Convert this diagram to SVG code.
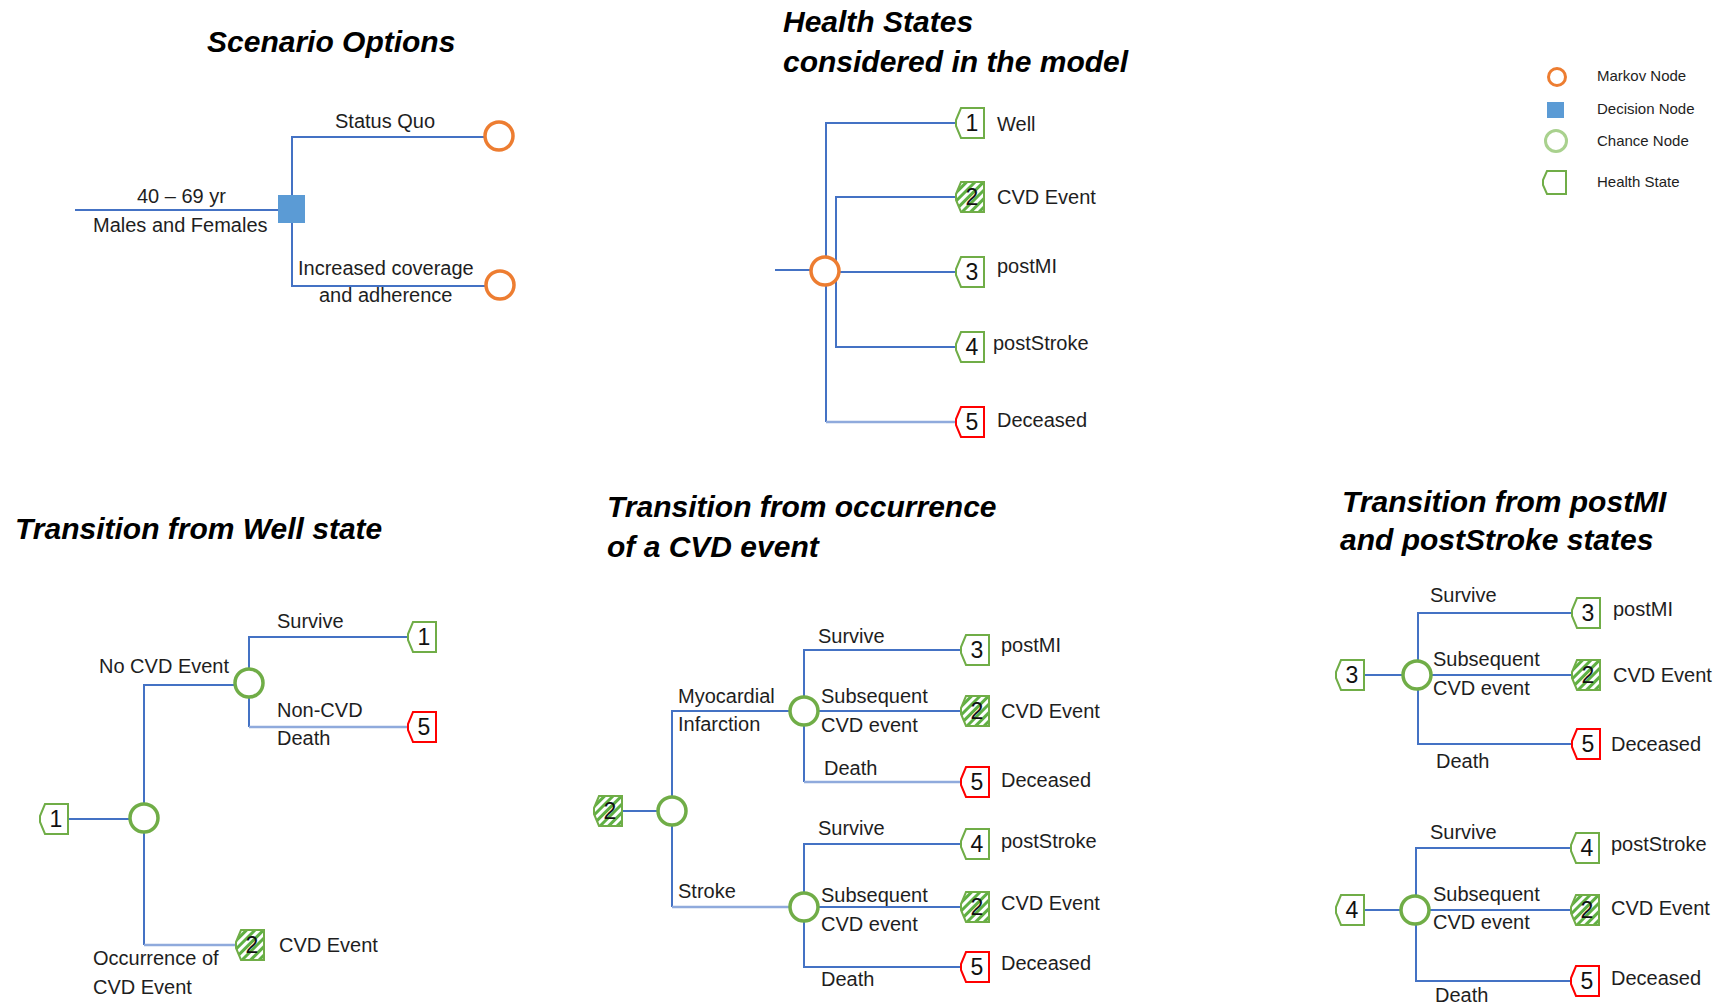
<svg xmlns="http://www.w3.org/2000/svg" xmlns:xlink="http://www.w3.org/1999/xlink" width="1713" height="1005" viewBox="0 0 1713 1005">
<style>
.ln{stroke:#4472C4;stroke-width:2;fill:none}
.lt{stroke:#8FAADC;stroke-width:2.5;fill:none}
.chance{fill:#fff;stroke:#70AD47;stroke-width:3.5}
.markov{fill:#fff;stroke:#ED7D31;stroke-width:3.5}
.hs{fill:#fff;stroke:#70AD47;stroke-width:2}
.hsd{fill:#fff;stroke:#FF0000;stroke-width:2}
.hsc{fill:url(#hatch);stroke:#70AD47;stroke-width:2}
text{font-family:"Liberation Sans",Arial,sans-serif;font-size:20px;fill:#1e1e1e}
.title{font-weight:bold;font-style:italic;font-size:30px;fill:#000}
.num{font-size:23px;text-anchor:middle;fill:#111}
.leg{font-size:15px}
</style>
<defs>
<pattern id="hatch" patternUnits="userSpaceOnUse" width="6" height="6" patternTransform="rotate(45)">
<rect width="6" height="6" fill="#fff"/>
<rect width="3" height="6" fill="#5FB043"/>
</pattern>
<path id="hsShape" d="M5,0 H28 V30 H5 L0,18 V12 Z"/>
</defs>

<!-- Titles -->
<g id="titles">
<text class="title" x="207" y="52">Scenario Options</text>
<text class="title" x="783" y="32">Health States</text>
<text class="title" x="783" y="72">considered in the model</text>
<text class="title" x="15" y="539">Transition from Well state</text>
<text class="title" x="607" y="517">Transition from occurrence</text>
<text class="title" x="607" y="557">of a CVD event</text>
<text class="title" x="1342" y="512">Transition from postMI</text>
<text class="title" x="1340" y="550">and postStroke states</text>
</g>

<!-- Connectors -->
<g id="connectors">
<!-- Scenario options -->
<path class="ln" d="M75,210 H278"/>
<path class="ln" d="M484,137 H292 V286 H485"/>
<!-- Health states -->
<path class="ln" d="M775,270 H812"/>
<path class="ln" d="M956,123 H826 V422"/>
<path class="lt" d="M826,422 H956"/>
<path class="ln" d="M956,197 H836 V347 H956"/>
<path class="ln" d="M838,272 H956"/>
<!-- Well transition -->
<path class="ln" d="M68,819 H130"/>
<path class="ln" d="M235,685 H144 V945"/>
<path class="lt" d="M144,945 H236"/>
<path class="ln" d="M408,637 H249 V727"/>
<path class="lt" d="M249,727 H408"/>
<!-- CVD transition -->
<path class="ln" d="M622,811 H658"/>
<path class="ln" d="M790,711 H672 V907"/>
<path class="lt" d="M672,907 H790"/>
<path class="ln" d="M961,650 H804 V782"/>
<path class="lt" d="M804,782 H961"/>
<path class="ln" d="M818,711 H961"/>
<path class="ln" d="M961,844 H804 V967 H961"/>
<path class="ln" d="M818,907 H961"/>
<!-- postMI -->
<path class="ln" d="M1364,675 H1403"/>
<path class="ln" d="M1572,613 H1418 V744 H1572"/>
<path class="ln" d="M1431,675 H1572"/>
<!-- postStroke -->
<path class="ln" d="M1364,910 H1401"/>
<path class="ln" d="M1571,848 H1416 V981 H1571"/>
<path class="ln" d="M1429,910 H1571"/>
</g>

<!-- Scenario Options nodes -->
<g id="decision-node"><rect x="278" y="195" width="27" height="28" fill="#5B9BD5"/></g>
<g id="markov-status-quo"><circle class="markov" cx="499" cy="136" r="14"/></g>
<g id="markov-increased"><circle class="markov" cx="500" cy="285" r="14"/></g>
<g id="scenario-labels">
<text x="137" y="203">40 – 69 yr</text>
<text x="93" y="232">Males and Females</text>
<text x="335" y="128">Status Quo</text>
<text x="298" y="275">Increased coverage</text>
<text x="319" y="302">and adherence</text>
</g>

<!-- Health states -->
<g id="hs-markov"><circle class="markov" cx="825" cy="271" r="14"/></g>
<g id="hs-well"><use xlink:href="#hsShape" x="956" y="108" class="hs"/><text class="num" x="972" y="131">1</text><text x="997" y="131">Well</text></g>
<g id="hs-cvd"><use xlink:href="#hsShape" x="956" y="182" class="hsc"/><text class="num" x="972" y="205">2</text><text x="997" y="204">CVD Event</text></g>
<g id="hs-postmi"><use xlink:href="#hsShape" x="956" y="257" class="hs"/><text class="num" x="972" y="280">3</text><text x="997" y="273">postMI</text></g>
<g id="hs-poststroke"><use xlink:href="#hsShape" x="956" y="332" class="hs"/><text class="num" x="972" y="355">4</text><text x="993" y="350">postStroke</text></g>
<g id="hs-deceased"><use xlink:href="#hsShape" x="956" y="407" class="hsd"/><text class="num" x="972" y="430">5</text><text x="997" y="427">Deceased</text></g>

<!-- Legend -->
<g id="legend">
<circle cx="1557" cy="77" r="8.5" fill="#fff" stroke="#ED7D31" stroke-width="3"/>
<text class="leg" x="1597" y="81">Markov Node</text>
<rect x="1547" y="102" width="17" height="16" fill="#5B9BD5"/>
<text class="leg" x="1597" y="114">Decision Node</text>
<circle cx="1556" cy="141" r="10.5" fill="#fff" stroke="#A9D18E" stroke-width="3"/>
<text class="leg" x="1597" y="146">Chance Node</text>
<path d="M1547,171 H1566 V194 H1547 L1543,185 V180 Z" fill="#fff" stroke="#70AD47" stroke-width="2"/>
<text class="leg" x="1597" y="187">Health State</text>
</g>

<!-- Well transition -->
<g id="well-root"><use xlink:href="#hsShape" x="40" y="804" class="hs"/><text class="num" x="56" y="827">1</text></g>
<g id="well-chance"><circle class="chance" cx="144" cy="818" r="14"/></g>
<g id="well-nocvd-chance"><circle class="chance" cx="249" cy="683" r="14"/></g>
<g id="well-survive"><use xlink:href="#hsShape" x="408" y="622" class="hs"/><text class="num" x="424" y="645">1</text></g>
<g id="well-death"><use xlink:href="#hsShape" x="408" y="712" class="hsd"/><text class="num" x="424" y="735">5</text></g>
<g id="well-cvd"><use xlink:href="#hsShape" x="236" y="930" class="hsc"/><text class="num" x="252" y="953">2</text><text x="279" y="952">CVD Event</text></g>
<g id="well-labels">
<text x="99" y="673">No CVD Event</text>
<text x="277" y="628">Survive</text>
<text x="277" y="717">Non-CVD</text>
<text x="277" y="745">Death</text>
<text x="93" y="965">Occurrence of</text>
<text x="93" y="994">CVD Event</text>
</g>

<!-- CVD transition -->
<g id="cvd-root"><use xlink:href="#hsShape" x="594" y="796" class="hsc"/><text class="num" x="610" y="819">2</text></g>
<g id="cvd-chance"><circle class="chance" cx="672" cy="811" r="14"/></g>
<g id="cvd-mi-chance"><circle class="chance" cx="804" cy="711" r="14"/></g>
<g id="cvd-stroke-chance"><circle class="chance" cx="804" cy="907" r="14"/></g>
<g id="cvd-mi-survive"><use xlink:href="#hsShape" x="961" y="635" class="hs"/><text class="num" x="977" y="658">3</text><text x="1001" y="652">postMI</text></g>
<g id="cvd-mi-sub"><use xlink:href="#hsShape" x="961" y="696" class="hsc"/><text class="num" x="977" y="719">2</text><text x="1001" y="718">CVD Event</text></g>
<g id="cvd-mi-death"><use xlink:href="#hsShape" x="961" y="767" class="hsd"/><text class="num" x="977" y="790">5</text><text x="1001" y="787">Deceased</text></g>
<g id="cvd-st-survive"><use xlink:href="#hsShape" x="961" y="829" class="hs"/><text class="num" x="977" y="852">4</text><text x="1001" y="848">postStroke</text></g>
<g id="cvd-st-sub"><use xlink:href="#hsShape" x="961" y="892" class="hsc"/><text class="num" x="977" y="915">2</text><text x="1001" y="910">CVD Event</text></g>
<g id="cvd-st-death"><use xlink:href="#hsShape" x="961" y="952" class="hsd"/><text class="num" x="977" y="975">5</text><text x="1001" y="970">Deceased</text></g>
<g id="cvd-labels">
<text x="678" y="703">Myocardial</text>
<text x="678" y="731">Infarction</text>
<text x="678" y="898">Stroke</text>
<text x="818" y="643">Survive</text>
<text x="821" y="703">Subsequent</text>
<text x="821" y="732">CVD event</text>
<text x="824" y="775">Death</text>
<text x="818" y="835">Survive</text>
<text x="821" y="902">Subsequent</text>
<text x="821" y="931">CVD event</text>
<text x="821" y="986">Death</text>
</g>

<!-- postMI transition -->
<g id="pmi-root"><use xlink:href="#hsShape" x="1336" y="660" class="hs"/><text class="num" x="1352" y="683">3</text></g>
<g id="pmi-chance"><circle class="chance" cx="1417" cy="675" r="14"/></g>
<g id="pmi-survive"><use xlink:href="#hsShape" x="1572" y="598" class="hs"/><text class="num" x="1588" y="621">3</text><text x="1613" y="616">postMI</text></g>
<g id="pmi-sub"><use xlink:href="#hsShape" x="1572" y="660" class="hsc"/><text class="num" x="1588" y="683">2</text><text x="1613" y="682">CVD Event</text></g>
<g id="pmi-death"><use xlink:href="#hsShape" x="1572" y="729" class="hsd"/><text class="num" x="1588" y="752">5</text><text x="1611" y="751">Deceased</text></g>
<g id="pmi-labels">
<text x="1430" y="602">Survive</text>
<text x="1433" y="666">Subsequent</text>
<text x="1433" y="695">CVD event</text>
<text x="1436" y="768">Death</text>
</g>

<!-- postStroke transition -->
<g id="pst-root"><use xlink:href="#hsShape" x="1336" y="895" class="hs"/><text class="num" x="1352" y="918">4</text></g>
<g id="pst-chance"><circle class="chance" cx="1415" cy="910" r="14"/></g>
<g id="pst-survive"><use xlink:href="#hsShape" x="1571" y="833" class="hs"/><text class="num" x="1587" y="856">4</text><text x="1611" y="851">postStroke</text></g>
<g id="pst-sub"><use xlink:href="#hsShape" x="1571" y="895" class="hsc"/><text class="num" x="1587" y="918">2</text><text x="1611" y="915">CVD Event</text></g>
<g id="pst-death"><use xlink:href="#hsShape" x="1571" y="966" class="hsd"/><text class="num" x="1587" y="989">5</text><text x="1611" y="985">Deceased</text></g>
<g id="pst-labels">
<text x="1430" y="839">Survive</text>
<text x="1433" y="901">Subsequent</text>
<text x="1433" y="929">CVD event</text>
<text x="1435" y="1002">Death</text>
</g>
</svg>
